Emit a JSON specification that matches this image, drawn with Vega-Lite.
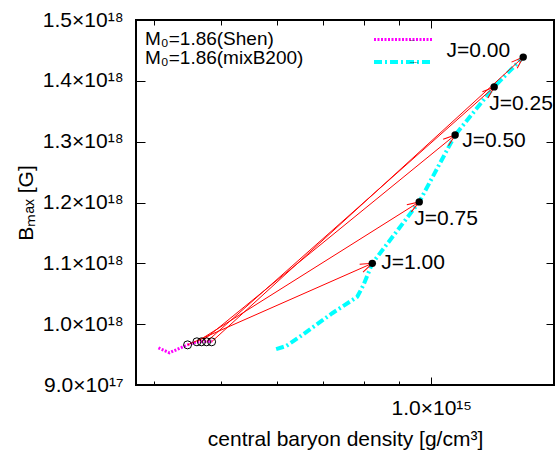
{
  "$schema": "https://vega.github.io/schema/vega-lite/v6.json",
  "width": 418,
  "height": 365,
  "autosize": {"type": "none"},
  "padding": {"left": 136, "top": 20, "right": 1, "bottom": 74},
  "background": "white",
  "config": {
    "view": {"stroke": "black", "strokeWidth": 2},
    "font": "Liberation Sans",
    "axis": {"labelFont": "Liberation Sans", "titleFont": "Liberation Sans", "labelFontSize": 21, "titleFontSize": 21, "labelColor": "black", "titleColor": "black", "tickColor": "black", "tickWidth": 1, "grid": false, "domain": false, "titleFontWeight": "normal"},
    "legend": {"orient": "none", "legendX": 264, "legendY": 17, "padding": 0, "labelFontSize": 2, "rowPadding": 8, "symbolType": "M-29,0L29,0", "symbolSize": 4, "title": null, "labelExpr": "''", "symbolFillColor": "transparent"}
  },
  "title": {"text": ["M₀=1.86(Shen)", "M₀=1.86(mixB200)"], "anchor": "start", "frame": "group", "orient": "top", "offset": -59, "dx": 9, "fontSize": 19, "font": "Liberation Sans", "fontWeight": "normal", "lineHeight": 19, "baseline": "top", "color": "black"},
  "datasets": {
    "curves": [
      {"series": "Shen", "density": 4.06e14, "bmax": 9.61e17},
      {"series": "Shen", "density": 4.21e14, "bmax": 9.53e17},
      {"series": "Shen", "density": 4.47e14, "bmax": 9.66e17},
      {"series": "Shen", "density": 4.61e14, "bmax": 9.71e17},
      {"series": "Shen", "density": 4.85e14, "bmax": 9.72e17},
      {"series": "mixB200", "density": 5.99e14, "bmax": 9.59e17},
      {"series": "mixB200", "density": 6.19e14, "bmax": 9.64e17},
      {"series": "mixB200", "density": 6.47e14, "bmax": 9.79e17},
      {"series": "mixB200", "density": 7.21e14, "bmax": 1.018e18},
      {"series": "mixB200", "density": 7.83e14, "bmax": 1.045e18},
      {"series": "mixB200", "density": 7.99e14, "bmax": 1.064e18},
      {"series": "mixB200", "density": 8.23e14, "bmax": 1.10e18},
      {"series": "mixB200", "density": 9.61e14, "bmax": 1.201e18},
      {"series": "mixB200", "density": 1.082e15, "bmax": 1.311e18},
      {"series": "mixB200", "density": 1.231e15, "bmax": 1.39e18},
      {"series": "mixB200", "density": 1.355e15, "bmax": 1.439e18}
    ],
    "runs": [
      {"label": "J=0.00", "pos": "upleft", "x0": 4.84e14, "y0": 9.71e17, "x1": 1.355e15, "y1": 1.439e18},
      {"label": "J=0.25", "pos": "below", "x0": 4.76e14, "y0": 9.71e17, "x1": 1.231e15, "y1": 1.39e18},
      {"label": "J=0.50", "pos": "right", "x0": 4.68e14, "y0": 9.71e17, "x1": 1.082e15, "y1": 1.311e18},
      {"label": "J=0.75", "pos": "below", "x0": 4.61e14, "y0": 9.71e17, "x1": 9.61e14, "y1": 1.201e18},
      {"label": "J=1.00", "pos": "right2", "x0": 4.47e14, "y0": 9.66e17, "x1": 8.23e14, "y1": 1.10e18}
    ]
  },
  "layer": [
    {
      "data": {"name": "curves"},
      "mark": {"type": "line", "clip": true},
      "encoding": {
        "x": {"field": "density", "type": "quantitative", "scale": {"type": "log", "domain": [3.77e14, 1.5e15], "nice": false},
          "axis": {"orient": "bottom", "values": [4e14, 5e14, 6e14, 7e14, 8e14, 9e14], "tickSize": -4, "labels": false, "title": null}},
        "y": {"field": "bmax", "type": "quantitative", "scale": {"domain": [9e17, 1.5e18], "nice": false, "zero": false},
          "axis": {"orient": "left", "values": [9e17, 1e18, 1.1e18, 1.2e18, 1.3e18, 1.4e18, 1.5e18], "tickSize": -9, "labelPadding": 22,
            "labelExpr": "datum.value < 9.5e17 ? format(datum.value/1e17, '.1f') + '×10¹⁷' : format(datum.value/1e18, '.1f') + '×10¹⁸'",
            "title": "Bₘₐₓ [G]", "titlePadding": 6}},
        "color": {"field": "series", "type": "nominal", "scale": {"domain": ["Shen", "mixB200"], "range": ["#ff00ff", "#00ffff"]}},
        "strokeDash": {"field": "series", "type": "nominal", "scale": {"domain": ["Shen", "mixB200"], "range": [[2, 1.5], [8, 3, 2, 3]]}},
        "strokeWidth": {"field": "series", "type": "nominal", "scale": {"domain": ["Shen", "mixB200"], "range": [3, 4]}}
      }
    },
    {
      "data": {"name": "runs"},
      "mark": {"type": "rule", "color": "#ff0000", "strokeWidth": 1},
      "encoding": {
        "x": {"field": "x0", "type": "quantitative", "scale": {"type": "log", "domain": [3.77e14, 1.5e15], "nice": false},
          "axis": {"orient": "bottom", "values": [1e15], "tickSize": -8, "labelPadding": 20, "labelExpr": "'1.0×10¹⁵'", "title": "central baryon density [g/cm³]", "titlePadding": 10}},
        "y": {"field": "y0", "type": "quantitative", "scale": {"domain": [9e17, 1.5e18], "nice": false, "zero": false},
          "axis": {"orient": "right", "values": [9e17, 1e18, 1.1e18, 1.2e18, 1.3e18, 1.4e18, 1.5e18], "tickSize": -8, "labels": false, "title": null}},
        "x2": {"field": "x1"},
        "y2": {"field": "y1"}
      }
    },
    {
      "data": {"name": "runs"},
      "transform": [
        {"calculate": "atan2(scale('y', datum.y1) - scale('y', datum.y0), scale('x', datum.x1) - scale('x', datum.x0)) * 180 / PI", "as": "ang"}
      ],
      "mark": {"type": "point", "shape": "M-1,-0.35L0,0L-1,0.35", "filled": false, "stroke": "#ff0000", "strokeWidth": 1, "size": 576, "opacity": 1},
      "encoding": {
        "x": {"field": "x1", "type": "quantitative", "scale": {"type": "log", "domain": [3.77e14, 1.5e15], "nice": false},
          "axis": {"orient": "top", "values": [4e14, 5e14, 6e14, 7e14, 8e14, 9e14], "tickSize": -5, "labels": false, "title": null}},
        "y": {"field": "y1", "type": "quantitative", "scale": {"domain": [9e17, 1.5e18], "nice": false, "zero": false}, "axis": null},
        "angle": {"field": "ang", "type": "quantitative", "scale": null}
      }
    },
    {
      "data": {"name": "runs"},
      "mark": {"type": "point", "filled": false, "stroke": "black", "strokeWidth": 1, "size": 64, "opacity": 1},
      "encoding": {
        "x": {"field": "x0", "type": "quantitative", "scale": {"type": "log", "domain": [3.77e14, 1.5e15], "nice": false},
          "axis": {"orient": "top", "values": [1e15], "tickSize": -8, "labels": false, "title": null}},
        "y": {"field": "y0", "type": "quantitative", "scale": {"domain": [9e17, 1.5e18], "nice": false, "zero": false}, "axis": null}
      }
    },
    {
      "data": {"name": "runs"},
      "mark": {"type": "circle", "color": "black", "size": 55, "opacity": 1},
      "encoding": {
        "x": {"field": "x1", "type": "quantitative", "scale": {"type": "log", "domain": [3.77e14, 1.5e15], "nice": false}, "axis": null},
        "y": {"field": "y1", "type": "quantitative", "scale": {"domain": [9e17, 1.5e18], "nice": false, "zero": false}, "axis": null}
      }
    },
    {
      "data": {"name": "runs"},
      "transform": [{"filter": "datum.pos == 'upleft'"}],
      "mark": {"type": "text", "align": "right", "baseline": "middle", "dx": -13, "dy": -6, "fontSize": 21, "font": "Liberation Sans", "color": "black"},
      "encoding": {
        "x": {"field": "x1", "type": "quantitative", "scale": {"type": "log", "domain": [3.77e14, 1.5e15], "nice": false}, "axis": null},
        "y": {"field": "y1", "type": "quantitative", "scale": {"domain": [9e17, 1.5e18], "nice": false, "zero": false}, "axis": null},
        "text": {"field": "label"}
      }
    },
    {
      "data": {"name": "runs"},
      "transform": [{"filter": "datum.pos == 'below'"}],
      "mark": {"type": "text", "align": "left", "baseline": "middle", "dx": -5, "dy": 17, "fontSize": 21, "font": "Liberation Sans", "color": "black"},
      "encoding": {
        "x": {"field": "x1", "type": "quantitative", "scale": {"type": "log", "domain": [3.77e14, 1.5e15], "nice": false}, "axis": null},
        "y": {"field": "y1", "type": "quantitative", "scale": {"domain": [9e17, 1.5e18], "nice": false, "zero": false}, "axis": null},
        "text": {"field": "label"}
      }
    },
    {
      "data": {"name": "runs"},
      "transform": [{"filter": "datum.pos == 'right'"}],
      "mark": {"type": "text", "align": "left", "baseline": "middle", "dx": 7, "dy": 6, "fontSize": 21, "font": "Liberation Sans", "color": "black"},
      "encoding": {
        "x": {"field": "x1", "type": "quantitative", "scale": {"type": "log", "domain": [3.77e14, 1.5e15], "nice": false}, "axis": null},
        "y": {"field": "y1", "type": "quantitative", "scale": {"domain": [9e17, 1.5e18], "nice": false, "zero": false}, "axis": null},
        "text": {"field": "label"}
      }
    },
    {
      "data": {"name": "runs"},
      "transform": [{"filter": "datum.pos == 'right2'"}],
      "mark": {"type": "text", "align": "left", "baseline": "middle", "dx": 9, "dy": 0, "fontSize": 21, "font": "Liberation Sans", "color": "black"},
      "encoding": {
        "x": {"field": "x1", "type": "quantitative", "scale": {"type": "log", "domain": [3.77e14, 1.5e15], "nice": false}, "axis": null},
        "y": {"field": "y1", "type": "quantitative", "scale": {"domain": [9e17, 1.5e18], "nice": false, "zero": false}, "axis": null},
        "text": {"field": "label"}
      }
    }
  ],
  "resolve": {"axis": {"x": "independent", "y": "independent"}}
}
